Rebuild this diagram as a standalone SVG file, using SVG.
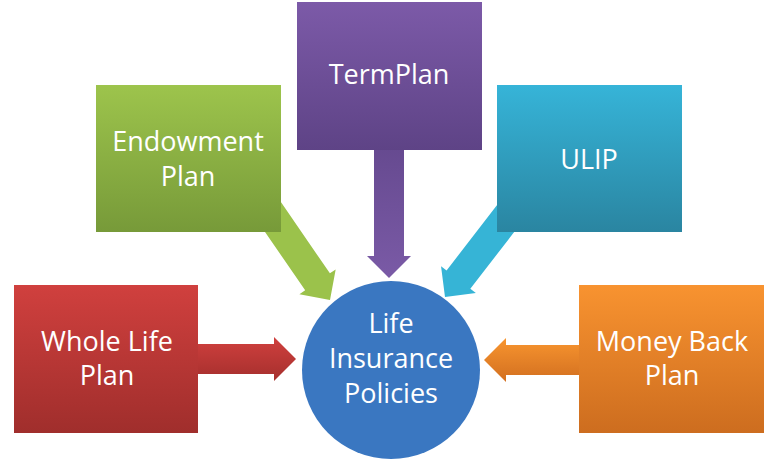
<svg xmlns="http://www.w3.org/2000/svg" width="780" height="470" viewBox="0 0 780 470">
  <defs>
    <linearGradient id="gRed" x1="0" y1="0" x2="0" y2="1"><stop offset="0" stop-color="#d0403e"/><stop offset="1" stop-color="#a02e2c"/></linearGradient>
    <linearGradient id="gGreen" x1="0" y1="0" x2="0" y2="1"><stop offset="0" stop-color="#9dc44c"/><stop offset="1" stop-color="#779a39"/></linearGradient>
    <linearGradient id="gPurple" x1="0" y1="0" x2="0" y2="1"><stop offset="0" stop-color="#7c5aa8"/><stop offset="1" stop-color="#5e4386"/></linearGradient>
    <linearGradient id="gTeal" x1="0" y1="0" x2="0" y2="1"><stop offset="0" stop-color="#36b4d8"/><stop offset="1" stop-color="#2a85a1"/></linearGradient>
    <linearGradient id="gOrange" x1="0" y1="0" x2="0" y2="1"><stop offset="0" stop-color="#f89330"/><stop offset="1" stop-color="#cd6d1f"/></linearGradient>
    <linearGradient id="aRed" x1="0" y1="0" x2="0" y2="1"><stop offset="0" stop-color="#d0403e"/><stop offset="1" stop-color="#a52f2d"/></linearGradient>
    <linearGradient id="aOrange" x1="0" y1="1" x2="0" y2="0"><stop offset="0" stop-color="#f8952f"/><stop offset="1" stop-color="#d26f20"/></linearGradient>
    <linearGradient id="aPurple" x1="0" y1="0" x2="1" y2="0"><stop offset="0" stop-color="#5f4488"/><stop offset="1" stop-color="#7a5aa6"/></linearGradient>
  </defs>
  <style>
    .lbl { font-family: "Open Sans", "Noto Sans", "Liberation Sans", sans-serif; font-size: 27px; fill: #ffffff; text-anchor: middle; }
  </style>
  <rect width="780" height="470" fill="#ffffff"/>
  <g id="connectors">
    <path transform="translate(296,359)" d="M -146 -15 H -22 V -22 L 0 0 L -22 22 V 15 H -146 Z" fill="url(#aRed)"/>
    <path transform="translate(484,360) rotate(180)" d="M -136 -15 H -22 V -22 L 0 0 L -22 22 V 15 H -136 Z" fill="url(#aOrange)"/>
    <path transform="translate(389,278) rotate(90)" d="M -178 -15 H -22 V -22 L 0 0 L -22 22 V 15 H -178 Z" fill="url(#aPurple)"/>
    <path transform="translate(330,300) rotate(55.5)" d="M -130 -15 H -22 V -22 L 0 0 L -22 22 V 15 H -130 Z" fill="#9bc24b"/>
    <path transform="translate(445,297) rotate(127.7)" d="M -130 -15 H -22 V -22 L 0 0 L -22 22 V 15 H -130 Z" fill="#36b4d6"/>
  </g>
  <g id="node-whole-life">
    <rect x="14" y="285" width="184" height="148" fill="url(#gRed)"/>
    <text class="lbl" x="107" y="351">Whole Life</text>
    <text class="lbl" x="107" y="385">Plan</text>
  </g>
  <g id="node-endowment">
    <rect x="96" y="85" width="185" height="147" fill="url(#gGreen)"/>
    <text class="lbl" x="188" y="151">Endowment</text>
    <text class="lbl" x="188" y="186">Plan</text>
  </g>
  <g id="node-term">
    <rect x="297" y="2" width="185" height="148" fill="url(#gPurple)"/>
    <text class="lbl" x="389" y="84">TermPlan</text>
  </g>
  <g id="node-ulip">
    <rect x="497" y="85" width="185" height="147" fill="url(#gTeal)"/>
    <text class="lbl" x="589" y="169">ULIP</text>
  </g>
  <g id="node-money-back">
    <rect x="579" y="285" width="185" height="148" fill="url(#gOrange)"/>
    <text class="lbl" x="672" y="351">Money Back</text>
    <text class="lbl" x="672" y="385">Plan</text>
  </g>
  <g id="node-life-insurance">
    <circle cx="391" cy="370" r="89" fill="#3a77c1"/>
    <text class="lbl" x="391" y="333">Life</text>
    <text class="lbl" x="391" y="368">Insurance</text>
    <text class="lbl" x="391" y="403">Policies</text>
  </g>
</svg>
